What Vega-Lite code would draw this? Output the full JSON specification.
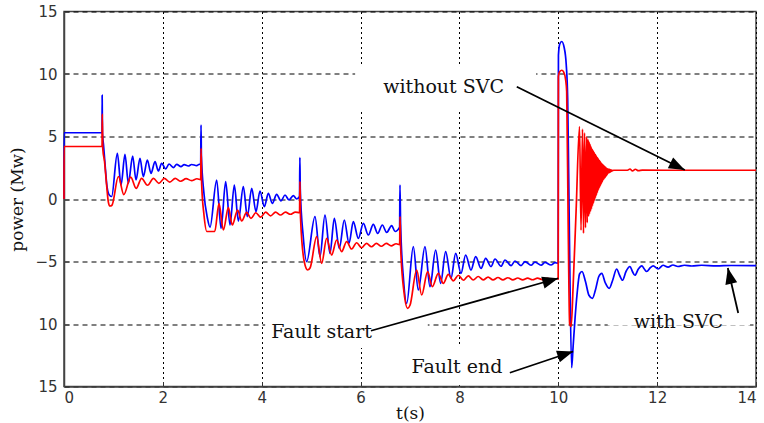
{
  "$schema": "https://vega.github.io/schema/vega-lite/v6.json",
  "width": 692,
  "height": 375,
  "autosize": {"type": "none"},
  "padding": {"left": 64, "top": 11.5, "right": 8, "bottom": 36.5},
  "background": "white",
  "config": {
    "view": {"stroke": "#444", "strokeWidth": 1.5},
    "axis": {
      "grid": true,
      "gridColor": "#000",
      "gridWidth": 1,
      "gridOpacity": 1,
      "domainColor": "#444",
      "domainWidth": 1.5,
      "tickColor": "#333",
      "tickSize": -5,
      "tickWidth": 1,
      "labelFont": "DejaVu Sans",
      "labelFontSize": 15,
      "labelColor": "#333",
      "titleFont": "DejaVu Serif",
      "titleFontSize": 17,
      "titleFontWeight": "normal",
      "titleColor": "#111"
    }
  },
  "datasets": {
    "withSVC": [
      {"t":0,"p":0},{"t":0.001,"p":5.3},{"t":0.77,"p":5.3},{"t":0.772,"p":8.3},{"t":0.778,"p":5.3},
      {"t":0.8,"p":4.3},{"t":0.83,"p":2.8},{"t":0.87,"p":1.0},{"t":0.92,"p":0.3},{"t":0.964,"p":0.2},
      {"t":1.079,"p":3.65},{"t":1.154,"p":1.12},{"t":1.234,"p":3.57},{"t":1.302,"p":1.25},{"t":1.389,"p":3.44},
      {"t":1.457,"p":1.52},{"t":1.537,"p":3.25},{"t":1.605,"p":1.79},{"t":1.686,"p":3.12},{"t":1.76,"p":2.05},
      {"t":1.841,"p":2.99},{"t":1.909,"p":2.24},{"t":1.976,"p":2.85},{"t":2.057,"p":2.4},{"t":2.124,"p":2.8},
      {"t":2.212,"p":2.51},{"t":2.28,"p":2.77},{"t":2.367,"p":2.59},{"t":2.43,"p":2.75},{"t":2.515,"p":2.64},
      {"t":2.583,"p":2.76},{"t":2.684,"p":2.67},{"t":2.74,"p":2.78},{"t":2.765,"p":2.75},{"t":2.772,"p":5.92},
      {"t":2.78,"p":3.5},{"t":2.83,"p":0.5},{"t":2.9,"p":-1.5},{"t":2.954,"p":-2.25},{"t":3.089,"p":1.52},
      {"t":3.177,"p":-2.35},{"t":3.271,"p":1.39},{"t":3.358,"p":-2.08},{"t":3.446,"p":1.12},{"t":3.527,"p":-1.76},
      {"t":3.628,"p":0.99},{"t":3.709,"p":-1.41},{"t":3.797,"p":0.85},{"t":3.884,"p":-1.01},{"t":3.965,"p":0.64},
      {"t":4.053,"p":-0.61},{"t":4.134,"p":0.45},{"t":4.215,"p":-0.35},{"t":4.302,"p":0.37},{"t":4.39,"p":-0.16},
      {"t":4.471,"p":0.32},{"t":4.552,"p":-0.08},{"t":4.639,"p":0.27},{"t":4.707,"p":0.0},{"t":4.765,"p":0.2},
      {"t":4.772,"p":3.31},{"t":4.78,"p":0.8},{"t":4.84,"p":-3.0},{"t":4.909,"p":-5.01},{"t":5.078,"p":-1.41},
      {"t":5.179,"p":-4.61},{"t":5.28,"p":-1.28},{"t":5.381,"p":-4.35},{"t":5.469,"p":-1.55},{"t":5.57,"p":-3.95},
      {"t":5.671,"p":-1.68},{"t":5.766,"p":-3.55},{"t":5.853,"p":-1.81},{"t":5.955,"p":-3.15},{"t":6.056,"p":-1.95},
      {"t":6.157,"p":-2.88},{"t":6.258,"p":-2.03},{"t":6.346,"p":-2.75},{"t":6.44,"p":-2.08},{"t":6.528,"p":-2.67},
      {"t":6.629,"p":-2.13},{"t":6.697,"p":-2.6},{"t":6.79,"p":-2.25},{"t":6.797,"p":1.12},{"t":6.81,"p":-2.0},
      {"t":6.87,"p":-6.5},{"t":6.933,"p":-8.35},{"t":7.067,"p":-3.81},{"t":7.168,"p":-7.28},{"t":7.303,"p":-3.81},
      {"t":7.404,"p":-7.01},{"t":7.519,"p":-4.08},{"t":7.62,"p":-6.75},{"t":7.721,"p":-4.21},{"t":7.829,"p":-6.35},
      {"t":7.924,"p":-4.35},{"t":8.032,"p":-5.95},{"t":8.126,"p":-4.48},{"t":8.234,"p":-5.68},{"t":8.329,"p":-4.61},
      {"t":8.437,"p":-5.55},{"t":8.531,"p":-4.75},{"t":8.639,"p":-5.41},{"t":8.72,"p":-4.8},{"t":8.842,"p":-5.38},
      {"t":8.922,"p":-4.88},{"t":9.044,"p":-5.33},{"t":9.124,"p":-4.96},{"t":9.246,"p":-5.33},{"t":9.327,"p":-5.01},
      {"t":9.448,"p":-5.3},{"t":9.529,"p":-5.05},{"t":9.651,"p":-5.3},{"t":9.731,"p":-5.07},{"t":9.853,"p":-5.28},
      {"t":9.934,"p":-5.09},{"t":9.998,"p":-5.15},{"t":10.003,"p":11.5},{"t":10.03,"p":12.4},{"t":10.07,"p":12.6},
      {"t":10.12,"p":12.1},{"t":10.16,"p":10.8},{"t":10.19,"p":8.0},{"t":10.21,"p":2.0},{"t":10.23,"p":-4.5},
      {"t":10.27,"p":-13.5},{"t":10.3,"p":-11.8},{"t":10.34,"p":-9.5},{"t":10.38,"p":-7.6},{"t":10.43,"p":-6.0},
      {"t":10.48,"p":-5.8},{"t":10.55,"p":-6.6},{"t":10.62,"p":-7.7},{"t":10.69,"p":-7.95},{"t":10.75,"p":-7.3},
      {"t":10.82,"p":-6.2},{"t":10.88,"p":-5.95},{"t":10.95,"p":-6.7},{"t":11.03,"p":-7.15},{"t":11.1,"p":-6.5},
      {"t":11.18,"p":-5.6},{"t":11.24,"p":-6.1},{"t":11.3,"p":-6.5},{"t":11.37,"p":-5.8},{"t":11.45,"p":-5.4},
      {"t":11.5,"p":-5.8},{"t":11.55,"p":-6.1},{"t":11.62,"p":-5.6},{"t":11.69,"p":-5.35},{"t":11.74,"p":-5.6},
      {"t":11.79,"p":-5.8},{"t":11.86,"p":-5.5},{"t":11.92,"p":-5.35},{"t":12.02,"p":-5.6},{"t":12.12,"p":-5.3},
      {"t":12.22,"p":-5.45},{"t":12.32,"p":-5.28},{"t":12.42,"p":-5.4},{"t":12.55,"p":-5.3},{"t":12.7,"p":-5.36},
      {"t":12.9,"p":-5.3},{"t":13.2,"p":-5.35},{"t":13.5,"p":-5.32},{"t":14.0,"p":-5.33}
    ],
    "withoutSVC": [
      {"t":0,"p":0},{"t":0.001,"p":4.2},{"t":0.77,"p":4.2},{"t":0.774,"p":6.8},{"t":0.785,"p":4.0},
      {"t":0.82,"p":3.0},{"t":0.86,"p":1.2},{"t":0.9,"p":-0.3},{"t":0.93,"p":-0.56},{"t":0.97,"p":-0.5},
      {"t":1.1,"p":1.8},{"t":1.21,"p":0.35},{"t":1.35,"p":1.75},{"t":1.46,"p":0.85},{"t":1.57,"p":1.65},
      {"t":1.69,"p":1.1},{"t":1.81,"p":1.65},{"t":1.92,"p":1.25},{"t":2.03,"p":1.65},{"t":2.14,"p":1.35},
      {"t":2.25,"p":1.65},{"t":2.36,"p":1.42},{"t":2.47,"p":1.63},{"t":2.58,"p":1.47},{"t":2.69,"p":1.62},
      {"t":2.765,"p":1.55},{"t":2.774,"p":4.05},{"t":2.785,"p":1.2},{"t":2.83,"p":-1.2},{"t":2.89,"p":-2.6},
      {"t":3.05,"p":-2.6},{"t":3.136,"p":-0.35},{"t":3.224,"p":-2.48},{"t":3.325,"p":-0.69},{"t":3.405,"p":-2.08},
      {"t":3.513,"p":-0.88},{"t":3.594,"p":-1.76},{"t":3.695,"p":-1.07},{"t":3.783,"p":-1.55},{"t":3.88,"p":-1.1},
      {"t":3.98,"p":-1.45},{"t":4.08,"p":-1.05},{"t":4.18,"p":-1.35},{"t":4.28,"p":-1.05},{"t":4.38,"p":-1.28},
      {"t":4.48,"p":-1.05},{"t":4.58,"p":-1.22},{"t":4.68,"p":-1.05},{"t":4.765,"p":-1.1},{"t":4.774,"p":1.39},
      {"t":4.785,"p":-1.5},{"t":4.86,"p":-5.0},{"t":4.93,"p":-5.68},{"t":4.98,"p":-5.5},{"t":5.112,"p":-3.01},
      {"t":5.213,"p":-5.15},{"t":5.314,"p":-3.15},{"t":5.415,"p":-4.48},{"t":5.516,"p":-3.28},{"t":5.617,"p":-4.21},
      {"t":5.718,"p":-3.41},{"t":5.819,"p":-4.0},{"t":5.92,"p":-3.5},{"t":6.02,"p":-3.9},{"t":6.12,"p":-3.55},
      {"t":6.22,"p":-3.82},{"t":6.32,"p":-3.55},{"t":6.42,"p":-3.78},{"t":6.52,"p":-3.55},{"t":6.62,"p":-3.75},
      {"t":6.72,"p":-3.58},{"t":6.79,"p":-3.65},{"t":6.799,"p":-1.41},{"t":6.81,"p":-3.8},{"t":6.88,"p":-7.5},
      {"t":6.953,"p":-8.75},{"t":7.0,"p":-8.5},{"t":7.135,"p":-5.68},{"t":7.236,"p":-7.68},{"t":7.357,"p":-5.81},
      {"t":7.452,"p":-7.01},{"t":7.573,"p":-5.95},{"t":7.674,"p":-6.75},{"t":7.775,"p":-6.03},{"t":7.876,"p":-6.55},
      {"t":7.98,"p":-6.1},{"t":8.08,"p":-6.5},{"t":8.18,"p":-6.15},{"t":8.28,"p":-6.48},{"t":8.38,"p":-6.2},
      {"t":8.48,"p":-6.47},{"t":8.58,"p":-6.25},{"t":8.68,"p":-6.47},{"t":8.78,"p":-6.28},{"t":8.88,"p":-6.47},
      {"t":8.98,"p":-6.3},{"t":9.08,"p":-6.47},{"t":9.18,"p":-6.32},{"t":9.28,"p":-6.47},{"t":9.38,"p":-6.33},
      {"t":9.48,"p":-6.46},{"t":9.58,"p":-6.33},{"t":9.68,"p":-6.45},{"t":9.78,"p":-6.35},{"t":9.88,"p":-6.45},
      {"t":9.96,"p":-6.38},{"t":9.998,"p":-6.4},{"t":10.002,"p":9.8},{"t":10.03,"p":10.2},{"t":10.07,"p":10.3},
      {"t":10.11,"p":10.15},{"t":10.15,"p":9.5},{"t":10.17,"p":8.6},{"t":10.2,"p":-2.0},{"t":10.23,"p":-10.0},
      {"t":10.26,"p":-10.2},{"t":10.3,"p":-7.0},{"t":10.36,"p":-1.0},{"t":10.43,"p":5.8},{"t":10.46,"p":-2.5},
      {"t":10.49,"p":5.6},{"t":10.51,"p":-2.75},{"t":10.53,"p":5.3},{"t":10.55,"p":-2.3},{"t":10.57,"p":5.0},
      {"t":10.585,"p":-1.9},{"t":10.6,"p":4.8},{"t":10.61,"p":-1.4},{"t":10.62,"p":4.6},{"t":10.63,"p":-1.2},
      {"t":10.64,"p":4.42},{"t":10.65,"p":-1.0},{"t":10.66,"p":4.23},{"t":10.67,"p":-0.8},{"t":10.68,"p":4.05},
      {"t":10.69,"p":-0.56},{"t":10.7,"p":3.92},{"t":10.71,"p":-0.35},{"t":10.72,"p":3.79},{"t":10.73,"p":-0.14},
      {"t":10.74,"p":3.66},{"t":10.75,"p":0.08},{"t":10.76,"p":3.53},{"t":10.77,"p":0.29},{"t":10.78,"p":3.4},
      {"t":10.79,"p":0.5},{"t":10.8,"p":3.29},{"t":10.81,"p":0.72},{"t":10.82,"p":3.18},{"t":10.83,"p":0.88},
      {"t":10.84,"p":3.07},{"t":10.85,"p":1.04},{"t":10.86,"p":2.96},{"t":10.87,"p":1.2},{"t":10.88,"p":2.85},
      {"t":10.89,"p":1.36},{"t":10.9,"p":2.77},{"t":10.91,"p":1.52},{"t":10.92,"p":2.69},{"t":10.93,"p":1.63},
      {"t":10.94,"p":2.61},{"t":10.95,"p":1.73},{"t":10.96,"p":2.53},{"t":10.97,"p":1.84},{"t":10.98,"p":2.45},
      {"t":10.99,"p":1.95},{"t":11.0,"p":2.42},{"t":11.01,"p":2.05},{"t":11.02,"p":2.39},{"t":11.03,"p":2.1},
      {"t":11.04,"p":2.37},{"t":11.05,"p":2.15},{"t":11.06,"p":2.34},{"t":11.07,"p":2.2},{"t":11.08,"p":2.32},
      {"t":11.09,"p":2.25},{"t":11.12,"p":2.3},{"t":11.4,"p":2.3},{"t":11.45,"p":2.4},{"t":11.5,"p":2.25},
      {"t":11.56,"p":2.38},{"t":11.62,"p":2.27},{"t":11.7,"p":2.31},{"t":12.2,"p":2.3},{"t":14.0,"p":2.3}
    ],
    "labelBoxes": [
      {"t":5.89,"p":7.12,"t2":9.55,"p2":10.72},
      {"t":4.07,"p":-9.04,"t2":7.36,"p2":-11.92},
      {"t":6.9,"p":-11.84,"t2":9.12,"p2":-14.88},
      {"t":11.0,"p":-9.88,"t2":13.88,"p2":-10.12}
    ],
    "arrows": [
      {"name":"without SVC","t":9.16,"p":8.98,"t2":12.56,"p2":2.32},
      {"name":"Fault start","t":6.21,"p":-10.54,"t2":10.0,"p2":-6.34},
      {"name":"Fault end","t":9.02,"p":-13.9,"t2":10.3,"p2":-12.2},
      {"name":"with SVC","t":13.64,"p":-9.12,"t2":13.43,"p2":-5.52}
    ],
    "notes": [
      {"t":7.68,"p":8.96,"label":"without SVC"},
      {"t":5.21,"p":-10.62,"label":"Fault start"},
      {"t":7.95,"p":-13.42,"label":"Fault end"},
      {"t":12.43,"p":-9.82,"label":"with SVC"}
    ]
  },
  "encoding": {
    "x": {
      "field": "t",
      "type": "quantitative",
      "scale": {"domain": [0, 14], "nice": false, "zero": false},
      "axis": {
        "title": "t(s)",
        "values": [0, 2, 4, 6, 8, 10, 12, 14],
        "gridDash": [2, 3],
        "labelPadding": 9,
        "titlePadding": 0
      }
    },
    "y": {
      "field": "p",
      "type": "quantitative",
      "scale": {"domain": [-15, 15], "nice": false, "zero": false},
      "axis": {
        "title": "power (Mw)",
        "values": [-15, -10, -5, 0, 5, 10, 15],
        "gridDash": [5, 4],
        "labelPadding": 12,
        "labelExpr": "datum.value < -5 ? format(abs(datum.value), 'd') : datum.label",
        "titlePadding": 8
      }
    }
  },
  "layer": [
    {
      "data": {"name": "labelBoxes"},
      "mark": {"type": "rect", "fill": "white", "stroke": null},
      "encoding": {"x2": {"field": "t2"}, "y2": {"field": "p2"}}
    },
    {
      "data": {"name": "withSVC"},
      "mark": {"type": "line", "color": "#0000ff", "strokeWidth": 1.7, "interpolate": "monotone"},
      "encoding": {}
    },
    {
      "data": {"name": "withoutSVC"},
      "mark": {"type": "line", "color": "#ff0000", "strokeWidth": 1.7, "interpolate": "monotone"},
      "encoding": {}
    },
    {
      "data": {"name": "arrows"},
      "mark": {"type": "rule", "color": "#000", "strokeWidth": 1.8},
      "encoding": {"x2": {"field": "t2"}, "y2": {"field": "p2"}}
    },
    {
      "data": {"name": "arrows"},
      "mark": {"type": "point", "shape": "M0,0L-2,-0.75L-2,0.75Z", "filled": true, "color": "#000", "opacity": 1, "size": 256},
      "encoding": {
        "x": {"field": "t2", "type": "quantitative"},
        "y": {"field": "p2", "type": "quantitative"},
        "angle": {
          "field": "name",
          "type": "nominal",
          "scale": {"type": "ordinal", "domain": ["without SVC", "Fault start", "Fault end", "with SVC"], "range": [26.3, 344.1, 341.6, 257.5]},
          "legend": null
        }
      }
    },
    {
      "data": {"name": "notes"},
      "mark": {"type": "text", "font": "DejaVu Serif", "fontSize": 19, "color": "#111", "align": "center", "baseline": "middle"},
      "encoding": {"text": {"field": "label"}}
    }
  ]
}
